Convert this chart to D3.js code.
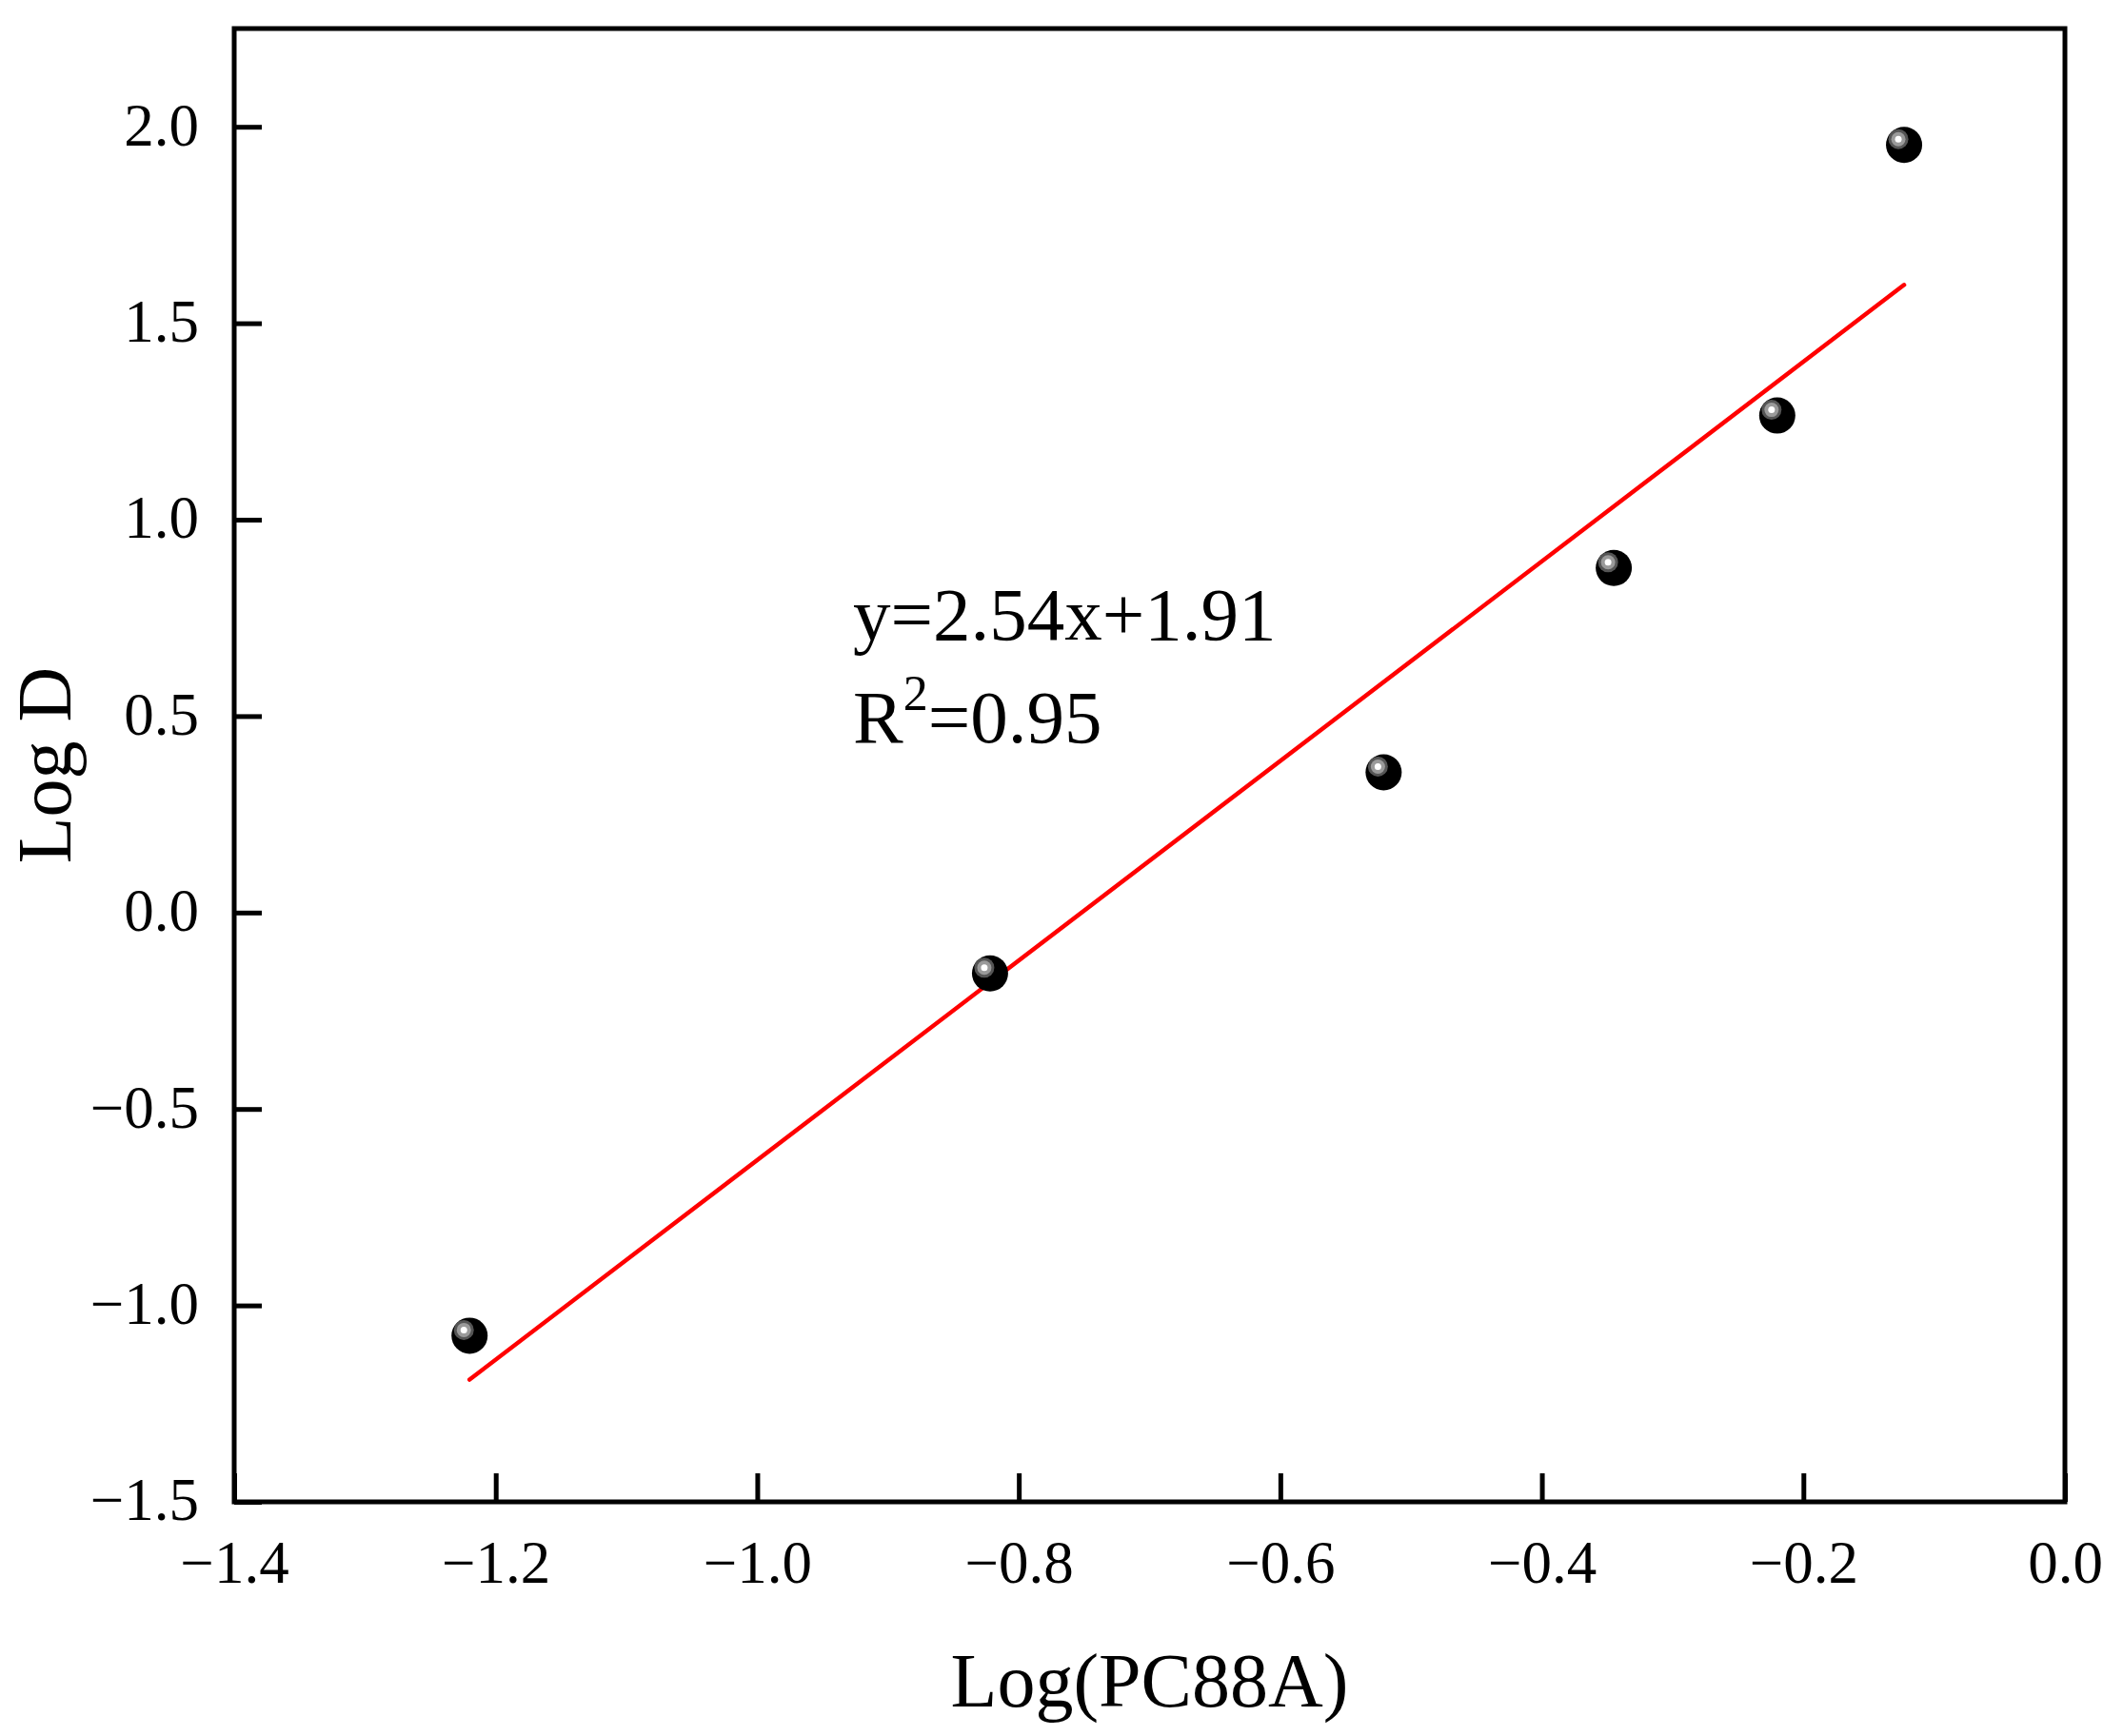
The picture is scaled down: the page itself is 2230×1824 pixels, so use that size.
<!DOCTYPE html>
<html>
<head>
<meta charset="utf-8">
<script src="https://cdn.jsdelivr.net/npm/d3@7"></script>
<style>
  body { margin: 0; background: #fff; }
  text { font-family: "Liberation Serif", "Times New Roman", serif; fill: #000; }
</style>
</head>
<body>
<div id="chart"></div>
<script>
// data
const logPC88A = [-1.220, -0.822, -0.521, -0.345, -0.220, -0.123]
const logD = [-1.077, -0.155, 0.357, 0.877, 1.265, 1.954]
const fitSlope = 2.54
const fitIntercept = 1.91
const fitLabel = 'y=2.54x+1.91'
const r2Label = '0.95'
const xTicks = [-1.4, -1.2, -1.0, -0.8, -0.6, -0.4, -0.2, 0.0]
const yTicks = [-1.5, -1.0, -0.5, 0.0, 0.5, 1.0, 1.5, 2.0]

const points = logPC88A.map((x, i) => ({ x, y: logD[i] }))

const width = 2230
const height = 1824
const margin = { top: 30, right: 61, bottom: 246, left: 246 }

const svg = d3.select('#chart').append('svg').attr('width', width).attr('height', height)

const x = d3.scaleLinear().domain([-1.4, 0]).range([margin.left, width - margin.right])
const y = d3.scaleLinear().domain([-1.5, 2.25]).range([height - margin.bottom, margin.top])

const fmt = d3.format('.1f')

// axes, ticks pointing inward
const xAxis = svg.append('g')
  .attr('transform', `translate(0,${height - margin.bottom})`)
  .call(d3.axisBottom(x).tickValues(xTicks).tickFormat(fmt).tickSizeInner(-30).tickSizeOuter(0))
xAxis.selectAll('text').attr('y', 40).attr('dy', '0.71em').attr('font-size', 63)

const yAxis = svg.append('g')
  .attr('transform', `translate(${margin.left},0)`)
  .call(d3.axisLeft(y).tickValues(yTicks).tickFormat(fmt).tickSizeInner(-29).tickSizeOuter(0))
yAxis.selectAll('text').attr('x', -37).attr('dy', '0.3em').attr('font-size', 63)

svg.selectAll('.domain').remove()
svg.selectAll('.tick line').attr('stroke', '#000').attr('stroke-width', 5)

// frame
svg.append('rect')
  .attr('x', margin.left)
  .attr('y', margin.top)
  .attr('width', width - margin.left - margin.right)
  .attr('height', height - margin.top - margin.bottom)
  .attr('fill', 'none')
  .attr('stroke', '#000')
  .attr('stroke-width', 5)

// fitted line over the range of the data
const xr = d3.extent(logPC88A)
const fit = xr.map(v => ({ x: v, y: fitSlope * v + fitIntercept }))
svg.append('path')
  .datum(fit)
  .attr('fill', 'none')
  .attr('stroke', '#ff0000')
  .attr('stroke-width', 4.5)
  .attr('stroke-linecap', 'round')
  .attr('d', d3.line().x(d => x(d.x)).y(d => y(d.y)))

// ball markers
const balls = svg.append('g').selectAll('g')
  .data(points)
  .join('g')
  .attr('transform', d => `translate(${x(d.x)},${y(d.y)})`)
balls.append('circle').attr('r', 19).attr('fill', '#000')
balls.append('circle').attr('cx', -6).attr('cy', -6).attr('r', 10.5).attr('fill', '#555')
balls.append('circle').attr('cx', -6).attr('cy', -6).attr('r', 7.5).attr('fill', '#9a9a9a')
balls.append('circle').attr('cx', -6).attr('cy', -6).attr('r', 3.5).attr('fill', '#fff')

// fit annotation
svg.append('text')
  .attr('x', 896).attr('y', 672)
  .attr('font-size', 79)
  .text(fitLabel)
const r2 = svg.append('text')
  .attr('x', 896).attr('y', 780)
  .attr('font-size', 79)
r2.append('tspan').text('R')
r2.append('tspan').attr('font-size', 52).attr('dy', -34).text('2')
r2.append('tspan').attr('dy', 34).text('=' + r2Label)

// axis titles
svg.append('text')
  .attr('x', (margin.left + width - margin.right) / 2)
  .attr('y', 1793)
  .attr('text-anchor', 'middle')
  .attr('font-size', 80)
  .text('Log(PC88A)')

svg.append('text')
  .attr('transform', `translate(74,${(margin.top + height - margin.bottom) / 2}) rotate(-90)`)
  .attr('text-anchor', 'middle')
  .attr('font-size', 80)
  .text('Log D')
</script>
</body>
</html>
